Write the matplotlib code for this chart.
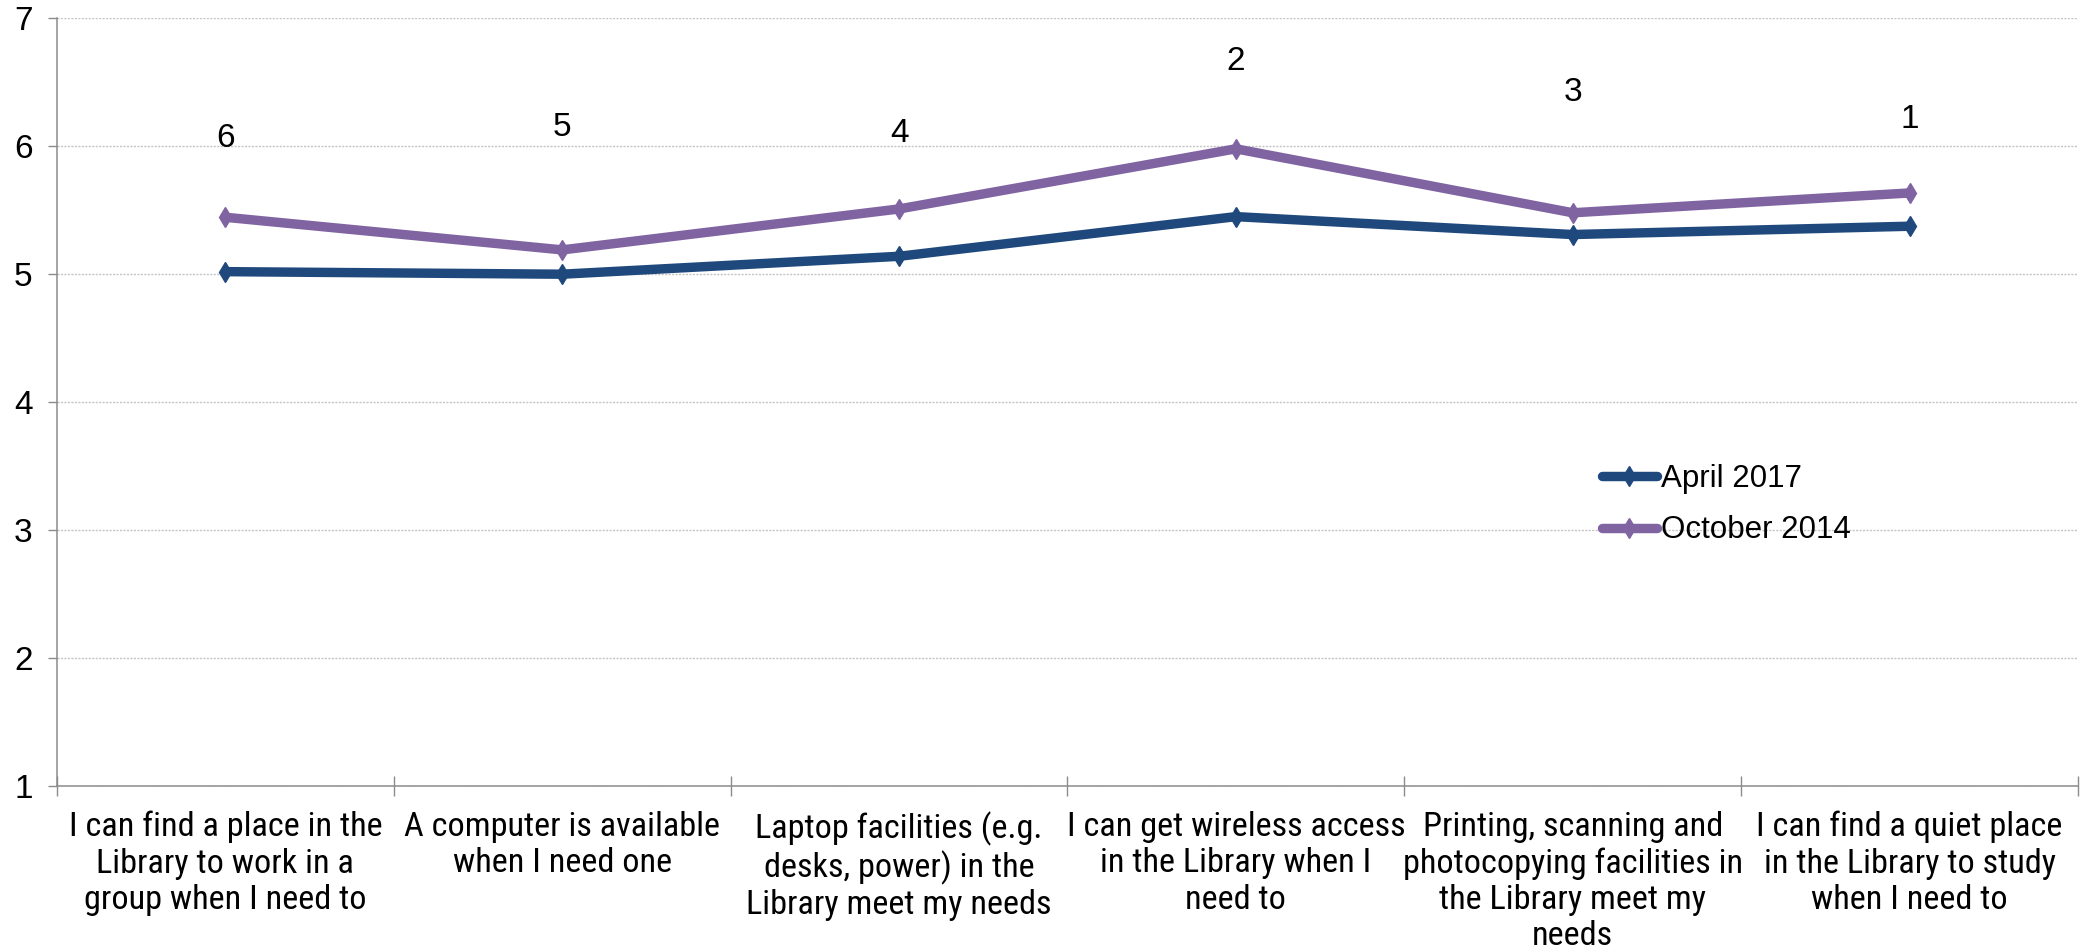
import matplotlib
matplotlib.use("Agg")
import matplotlib.pyplot as plt
from matplotlib import font_manager
from matplotlib.font_manager import FontProperties
from matplotlib.ticker import FixedLocator, NullFormatter

categories = [
    "I can find a place in the\nLibrary to work in a\ngroup when I need to",
    "A computer is available\nwhen I need one",
    "Laptop facilities (e.g.\ndesks, power) in the\nLibrary meet my needs",
    "I can get wireless access\nin the Library when I\nneed to",
    "Printing, scanning and\nphotocopying facilities in\nthe Library meet my\nneeds",
    "I can find a quiet place\nin the Library to study\nwhen I need to",
]
april_2017 = [5.02, 5.00, 5.14, 5.45, 5.31, 5.375]
october_2014 = [5.445, 5.19, 5.51, 5.98, 5.48, 5.635]
rank_labels = ["6", "5", "4", "2", "3", "1"]
rank_label_y = [6.06, 6.15, 6.10, 6.66, 6.42, 6.21]

BLUE = "#1F497D"
PURPLE = "#8064A2"
GRID = "#C4C4C4"
AXIS = "#8C8C8C"


def pick_font():
    """Prefer a narrow sans face for the long category captions."""
    entries = font_manager.fontManager.ttflist
    wanted = ["Liberation Sans Narrow", "Arial Narrow", "Roboto Condensed",
              "Open Sans Condensed", "DejaVu Sans Condensed"]
    for w in wanted:
        for f in entries:
            if f.name == w and f.weight in (400, "normal", "regular") and f.style == "normal":
                return FontProperties(fname=f.fname)
    for f in entries:
        base = f.fname.rsplit("/", 1)[-1].lower()
        if ("narrow" in base or "condensed" in base) and "bold" not in base \
                and "oblique" not in base and "italic" not in base and "light" not in base:
            return FontProperties(fname=f.fname)
    return FontProperties(family="Liberation Sans")


plt.rcParams["font.family"] = ["Liberation Sans", "DejaVu Sans"]
cat_font = pick_font()

fig = plt.figure(figsize=(20.93, 9.5), dpi=100)
renderer = fig.canvas.get_renderer()
ax = fig.add_axes([0.02723, 0.17263, 0.9656, 0.8081])


def width_px(text, prop, size):
    p = prop.copy()
    p.set_size(size)
    w, h, d = renderer.get_text_width_height_descent(text, p, ismath=False)
    return w


# caption size: widest caption line spans about 338 px
lines = [ln for c in categories for ln in c.split("\n")]
widest = max(width_px(ln, cat_font, 10) for ln in lines)
cat_size = 10 * 338.0 / widest
cp = cat_font.copy()
cp.set_size(cat_size)
_, lp_h, lp_d = renderer.get_text_width_height_descent("lp", cp, ismath=False)
cat_linespacing = 0.76 * 38.5 / (lp_h - lp_d)

x = list(range(len(categories)))
ax.plot(x, april_2017, color=BLUE, lw=6.8, marker="d", ms=10.5,
        solid_joinstyle="round", solid_capstyle="round", label="April 2017", zorder=3)
ax.plot(x, october_2014, color=PURPLE, lw=6.8, marker="d", ms=10.5,
        solid_joinstyle="round", solid_capstyle="round", label="October 2014", zorder=3)

for xi, yi, txt in zip(x, rank_label_y, rank_labels):
    ax.text(xi, yi, txt, ha="center", va="center", fontsize=24, color="black")

ax.set_xlim(-0.5, len(categories) - 0.5)
ax.set_ylim(1, 7)
ax.set_yticks(range(1, 8))
ax.yaxis.grid(True, color=GRID, lw=1.0, linestyle=(0, (1.5, 1)))
ax.set_axisbelow(True)

ax.xaxis.set_major_locator(FixedLocator(x))
ax.set_xticklabels(categories, fontproperties=cp, linespacing=cat_linespacing)
ax.xaxis.set_minor_locator(FixedLocator([i - 0.5 for i in range(len(categories) + 1)]))
ax.xaxis.set_minor_formatter(NullFormatter())
ax.tick_params(axis="x", which="major", length=0, pad=18)
ax.tick_params(axis="x", which="minor", direction="inout", length=14, width=1.0, color=AXIS)
ax.tick_params(axis="y", which="major", direction="out", length=6.5, width=1.0,
               color=AXIS, labelsize=24, pad=11)

for side in ("top", "right"):
    ax.spines[side].set_visible(False)
for side in ("left", "bottom"):
    ax.spines[side].set_color(AXIS)
    ax.spines[side].set_linewidth(1.1)

ax.legend(loc="upper left", bbox_to_anchor=(0.7645, 0.42), frameon=False,
          fontsize=22.5, handlelength=1.75, handletextpad=0.15, labelspacing=0.70,
          borderpad=0, borderaxespad=0)

fig.savefig("out.png", dpi=100)
